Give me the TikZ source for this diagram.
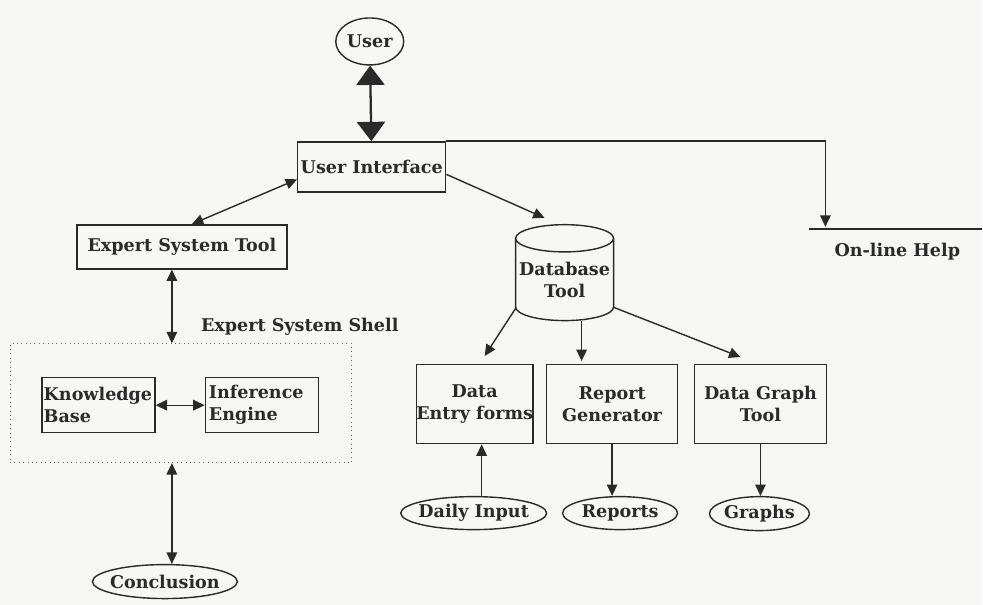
\documentclass[tikz,border=0pt]{standalone}
\usepackage{fontspec}
\setmainfont{DejaVu Serif}
\usetikzlibrary{arrows.meta,shapes.geometric}
\definecolor{ink}{HTML}{2A2A2A}
\definecolor{paper}{HTML}{F7F7F5}
\tikzset{
  box/.style={draw=ink,line width=0.8pt,text=ink,
    font=\bfseries\fontsize{10}{12.5}\selectfont,inner sep=0pt},
  oval/.style={box,ellipse,inner xsep=-4pt,inner ysep=-1pt},
  caption/.style={text=ink,font=\bfseries\fontsize{10}{12.5}\selectfont},
  shellbox/.style={draw=ink!70,line width=0.5pt,dotted},
  link/.style={draw=ink,line width=0.8pt,-{Triangle[length=6.5pt,width=6pt]}},
  twoway/.style={link,{Triangle[length=6.5pt,width=6pt]}-{Triangle[length=6.5pt,width=6pt]}},
  bigway/.style={draw=ink,line width=1.3pt,
    {Triangle[length=11pt,width=16pt]}-{Triangle[length=11pt,width=16pt]}}
}

\begin{document}
\begin{tikzpicture}
\fill[paper] (0,0) rectangle (19.66,12.10);

\node[oval,minimum width=1.36cm,minimum height=0.94cm] (user) at (7.40,11.27) {User};
\node[box,minimum width=2.96cm,minimum height=1.0cm] (ui) at (7.44,8.76) {User Interface};
\draw[bigway] (user) -- (ui);

\node[box,minimum width=4.2cm,minimum height=0.88cm] (est) at (3.64,7.16) {Expert System Tool};
\draw[twoway] ([yshift=-0.25cm]ui.west) -- ([xshift=0.2cm]est.north);

\node[shellbox,minimum width=6.84cm,minimum height=2.38cm] (shell) at (3.62,4.03) {};
\node[caption] (shelltitle) at (6.0,5.56) {Expert System Shell};
\draw[twoway] ([xshift=-0.2cm]est.south) -- ([xshift=-0.2cm]est.south |- shell.north);

\node[box,align=left,text width=2.26cm,minimum height=1.1cm] (kb) at (1.97,3.99) {\hspace{1pt}Knowledge\\\hspace{1pt}Base};
\node[box,align=left,text width=2.26cm,minimum height=1.1cm] (ie) at (5.24,3.99) {\hspace{2pt}Inference\\\hspace{2pt}Engine};
\draw[twoway] (kb) -- (ie);

\node[oval,minimum width=2.9cm,minimum height=0.68cm] (concl) at (3.30,0.46) {Conclusion};
\draw[twoway] ([xshift=0.14cm]concl.north |- shell.south) -- ([xshift=0.14cm]concl.north);

\node[box,cylinder,shape border rotate=90,aspect=0.3,align=center,
  minimum width=1.96cm,minimum height=1.92cm] (db) at (11.30,6.50) {Database\\Tool};
\draw[link] ([yshift=-0.15cm]ui.east) -- ([xshift=-0.4cm,yshift=0.12cm]db.north);

\node[box,align=center,minimum width=2.32cm,minimum height=1.58cm] (entry) at (9.50,4.01) {Data\\Entry forms};
\node[box,align=center,minimum width=2.62cm,minimum height=1.58cm] (report) at (12.25,4.01) {Report\\Generator};
\node[box,align=center,minimum width=2.64cm,minimum height=1.58cm] (graphtool) at (15.22,4.01) {Data Graph\\Tool};
\draw[link] ([xshift=-0.98cm,yshift=0.26cm]db.south) -- ([xshift=0.2cm,yshift=0.16cm]entry.north);
\draw[link] ([xshift=0.34cm]db.south) -- ([xshift=0.34cm,yshift=0.06cm]db.south |- report.north);
\draw[link] ([xshift=0.98cm,yshift=0.28cm]db.south) -- ([xshift=-0.4cm,yshift=0.14cm]graphtool.north);

\node[oval,minimum width=2.92cm,minimum height=0.66cm] (daily) at (9.48,1.83) {Daily Input};
\node[oval,minimum width=2.3cm,minimum height=0.66cm] (reports) at (12.41,1.83) {Reports};
\node[oval,minimum width=2.0cm,minimum height=0.68cm] (graphs) at (15.20,1.82) {Graphs};
\draw[link] ([xshift=0.16cm]daily.north) -- ([xshift=0.16cm]daily.north |- entry.south);
\draw[link] (report.south) -- (report.south |- reports.north);
\draw[link] (graphtool.south) -- (graphtool.south |- graphs.north);

\coordinate (helpleft) at (16.2,7.52);
\coordinate (helpright) at (19.66,7.52);
\coordinate (helptip) at (16.52,7.56);
\draw[ink,line width=0.8pt] (helpleft) -- (helpright);
\draw[link] (ui.north east) -| (helptip);
\node[caption] (help) at (17.96,7.06) {On-line Help};
\end{tikzpicture}
\end{document}
